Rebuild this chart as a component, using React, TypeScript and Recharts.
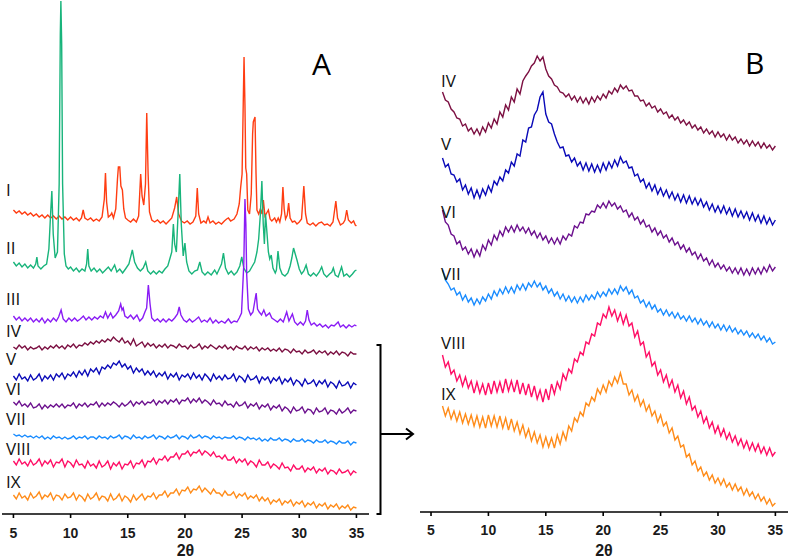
import React from "react";
import { LineChart, Line, XAxis, YAxis } from "recharts";

// 2θ sampling grids (degrees) used by the amorphous scans, and axis ticks
const gridA = Array.from({ length: 121 }, (_, i) => 5 + i * 0.25);
const gridB = Array.from({ length: 117 }, (_, i) => 6 + i * 0.25);
const ticks2Theta = [5, 10, 15, 20, 25, 30, 35];

// ---- Panel A : crystalline scans, [2θ, intensity] (stacked, a.u.) ----
const A_I = [
  [5, 304], [5.25, 301], [5.5, 303], [5.75, 300], [6, 302], [6.25, 299], [6.5, 301], [6.75, 298],
  [7, 300], [7.25, 297], [7.5, 299], [7.75, 296], [8, 299], [8.25, 296], [8.5, 298], [8.75, 295],
  [9, 298], [9.25, 295], [9.5, 297], [9.75, 294], [10, 297], [10.25, 294], [10.5, 296], [10.75, 293],
  [10.95, 296], [11.1, 304], [11.25, 296], [11.5, 294], [11.75, 296], [12, 293], [12.25, 295], [12.5, 293],
  [12.75, 297], [12.95, 315], [13.05, 341], [13.15, 312], [13.3, 297], [13.5, 299], [13.6, 301], [13.75, 296],
  [13.95, 305], [14.1, 335], [14.18, 347], [14.3, 347], [14.4, 328], [14.53, 324], [14.65, 305], [14.8, 296],
  [15, 294], [15.25, 292], [15.5, 295], [15.75, 292], [15.95, 298], [16.13, 340], [16.25, 318], [16.4, 309],
  [16.55, 330], [16.66, 401], [16.78, 340], [16.9, 302], [17.1, 294], [17.35, 292], [17.6, 294], [17.85, 291],
  [18.1, 293], [18.35, 290], [18.6, 293], [18.85, 296], [19.1, 306], [19.28, 317], [19.45, 300], [19.7, 293],
  [19.95, 291], [20.2, 293], [20.45, 290], [20.7, 292], [20.95, 298], [21.08, 326], [21.2, 300], [21.4, 291],
  [21.65, 293], [21.85, 291], [22.02, 297], [22.2, 291], [22.45, 293], [22.7, 290], [22.95, 292], [23.2, 290],
  [23.45, 293], [23.65, 295], [23.8, 296], [24, 293], [24.3, 295], [24.55, 300], [24.75, 310], [24.87, 326],
  [25, 340], [25.1, 410], [25.17, 457], [25.25, 409], [25.32, 346], [25.4, 340], [25.5, 304], [25.65, 300],
  [25.8, 320], [25.92, 380], [25.98, 392], [26.13, 397], [26.22, 340], [26.3, 304], [26.45, 300], [26.6, 305],
  [26.75, 300], [26.86, 314], [27, 298], [27.15, 301], [27.3, 304], [27.45, 295], [27.6, 293], [27.85, 296],
  [28, 292], [28.16, 296], [28.3, 292], [28.45, 300], [28.57, 327], [28.68, 305], [28.8, 295], [28.95, 299],
  [29.07, 311], [29.2, 296], [29.4, 292], [29.6, 293], [29.8, 290], [30, 292], [30.2, 295], [30.4, 328],
  [30.55, 300], [30.7, 291], [30.95, 289], [31.2, 291], [31.45, 288], [31.7, 291], [31.95, 292], [32.2, 289],
  [32.45, 290], [32.7, 288], [32.95, 292], [33.2, 313], [33.35, 296], [33.6, 289], [33.85, 291], [34, 294],
  [34.15, 304], [34.3, 294], [34.55, 291], [34.75, 293], [34.9, 289], [35, 288],
];

const A_II = [
  [5, 252], [5.25, 248], [5.5, 251], [5.75, 247], [6, 250], [6.25, 246], [6.5, 249], [6.75, 246],
  [6.95, 250], [7.05, 257], [7.15, 248], [7.4, 245], [7.65, 248], [7.9, 250], [8.1, 265], [8.25, 300],
  [8.36, 323], [8.48, 280], [8.65, 256], [8.85, 262], [9, 330], [9.1, 480], [9.15, 513], [9.22, 470],
  [9.3, 330], [9.45, 260], [9.6, 248], [9.8, 245], [10, 247], [10.25, 243], [10.5, 246], [10.75, 242],
  [11, 245], [11.25, 243], [11.4, 250], [11.5, 265], [11.6, 248], [11.8, 243], [12.05, 246], [12.3, 242],
  [12.55, 245], [12.8, 241], [13.05, 244], [13.3, 247], [13.55, 243], [13.85, 249], [14.05, 242], [14.3, 245],
  [14.55, 241], [14.8, 245], [15.1, 250], [15.4, 264], [15.6, 252], [15.85, 246], [16.1, 243], [16.35, 246],
  [16.57, 252], [16.75, 243], [17, 240], [17.25, 243], [17.5, 240], [17.75, 243], [18, 241], [18.25, 245],
  [18.5, 248], [18.7, 256], [18.85, 262], [18.99, 290], [19.1, 270], [19.25, 262], [19.4, 300], [19.55, 340],
  [19.68, 290], [19.85, 258], [20, 271], [20.15, 252], [20.35, 243], [20.6, 240], [20.85, 243], [21.1, 244],
  [21.3, 252], [21.5, 242], [21.75, 239], [22, 242], [22.3, 239], [22.6, 244], [22.8, 240], [23, 245],
  [23.2, 250], [23.37, 261], [23.55, 246], [23.8, 240], [24.05, 243], [24.3, 239], [24.55, 242], [24.8, 248],
  [24.97, 257], [25.15, 246], [25.4, 241], [25.65, 243], [25.9, 248], [26.1, 252], [26.3, 262], [26.45, 275],
  [26.6, 300], [26.73, 333], [26.85, 290], [26.95, 270], [27.05, 300], [27.15, 285], [27.3, 262], [27.42, 255],
  [27.55, 259], [27.7, 246], [27.9, 241], [28, 244], [28.14, 263], [28.3, 246], [28.5, 240], [28.75, 238],
  [29, 241], [29.2, 248], [29.35, 256], [29.5, 266], [29.65, 260], [29.8, 254], [30, 245], [30.2, 240],
  [30.4, 243], [30.6, 249], [30.8, 240], [31, 238], [31.25, 241], [31.5, 238], [31.75, 242], [31.96, 247],
  [32.15, 240], [32.4, 237], [32.65, 240], [32.85, 242], [32.98, 246], [33.15, 239], [33.4, 237], [33.7, 247],
  [33.9, 238], [34.15, 240], [34.4, 237], [34.65, 240], [34.85, 243], [35, 244],
];

const A_III = [
  [5, 198], [5.25, 194], [5.5, 197], [5.75, 193], [6, 196], [6.25, 193], [6.5, 196], [6.75, 192],
  [7, 195], [7.25, 192], [7.5, 196], [7.75, 191], [8, 195], [8.25, 192], [8.5, 196], [8.75, 193],
  [8.95, 197], [9.17, 204], [9.35, 195], [9.6, 192], [9.85, 196], [10.1, 193], [10.35, 196], [10.6, 193],
  [10.85, 195], [11.12, 198], [11.35, 194], [11.6, 197], [11.85, 194], [12.1, 197], [12.35, 195], [12.6, 198],
  [12.85, 196], [13.05, 202], [13.25, 196], [13.5, 201], [13.7, 196], [13.95, 199], [14.2, 203], [14.38, 210],
  [14.5, 204], [14.6, 206], [14.75, 198], [15, 196], [15.25, 199], [15.5, 195], [15.8, 199], [16.05, 193],
  [16.3, 196], [16.5, 202], [16.65, 206], [16.8, 229], [16.95, 210], [17.1, 196], [17.35, 193], [17.6, 195],
  [17.85, 192], [18.1, 195], [18.35, 192], [18.6, 195], [18.85, 193], [19.1, 196], [19.35, 200], [19.5, 207],
  [19.65, 199], [19.9, 194], [20.15, 192], [20.4, 195], [20.65, 192], [20.9, 194], [21.2, 197], [21.45, 192],
  [21.7, 194], [21.95, 192], [22.2, 196], [22.45, 191], [22.7, 194], [22.95, 191], [23.2, 193], [23.5, 191],
  [23.8, 195], [24.05, 191], [24.3, 193], [24.55, 192], [24.75, 196], [24.95, 201], [25.15, 250], [25.25, 315],
  [25.33, 290], [25.4, 240], [25.55, 205], [25.75, 199], [25.95, 202], [26.1, 212], [26.23, 221], [26.35, 205],
  [26.5, 202], [26.7, 199], [26.9, 204], [27.1, 198], [27.4, 201], [27.6, 196], [27.85, 194], [28.1, 192],
  [28.35, 195], [28.6, 192], [28.9, 202], [29.1, 193], [29.4, 200], [29.6, 192], [29.85, 189], [30.1, 192],
  [30.35, 189], [30.55, 193], [30.7, 204], [30.85, 194], [31.05, 189], [31.3, 191], [31.55, 188], [31.8, 190],
  [32.05, 187], [32.3, 189], [32.55, 186], [32.8, 189], [33.05, 188], [33.4, 192], [33.6, 187], [33.85, 189],
  [34.1, 186], [34.35, 189], [34.6, 187], [34.85, 189], [35, 188],
];

// ---- Panel A : amorphous scans on gridA (5°–35°, 0.25° step) ----
const A_IV = [
  167, 165, 169, 166, 168, 164, 167, 165, 166, 168, 164, 167, 165, 168, 166, 169,
  166, 168, 165, 169, 167, 170, 166, 169, 168, 171, 169, 172, 170, 173, 171, 174,
  172, 175, 173, 177, 174, 172, 176, 171, 173, 169, 175, 168, 170, 172, 167, 171,
  168, 170, 166, 169, 167, 170, 166, 169, 168, 166, 170, 167, 168, 165, 169, 166,
  167, 170, 165, 168, 166, 169, 167, 165, 168, 166, 169, 165, 167, 164, 168, 166,
  165, 168, 164, 167, 165, 167, 163, 166, 164, 166, 163, 165, 163, 166, 162, 165,
  164, 161, 165, 162, 163, 160, 164, 161, 162, 164, 160, 163, 161, 163, 159, 162,
  160, 163, 159, 162, 161, 158, 162, 160, 160,
];
const A_V = [
  138, 134, 140, 135, 137, 133, 139, 134, 136, 140, 133, 138, 135, 139, 134, 140,
  137, 141, 135, 140, 138, 142, 137, 143, 139, 144, 138, 145, 142, 146, 140, 147,
  145, 149, 146, 151, 149, 153, 147, 150, 145, 148, 141, 146, 142, 145, 139, 143,
  139, 143, 137, 141, 138, 142, 135, 140, 137, 141, 134, 139, 137, 140, 135, 141,
  136, 139, 134, 140, 137, 133, 140, 135, 138, 134, 139, 135, 136, 140, 133, 138,
  136, 132, 139, 134, 135, 138, 131, 137, 134, 137, 131, 136, 133, 137, 130, 135,
  132, 136, 129, 134, 132, 128, 135, 130, 131, 134, 128, 133, 130, 134, 127, 132,
  130, 126, 133, 128, 129, 132, 126, 131, 129,
];
const A_VI = [
  112, 109, 113, 108, 110, 107, 111, 106, 107, 110, 105, 109, 106, 109, 107, 110,
  107, 110, 106, 109, 108, 111, 106, 110, 108, 111, 107, 110, 109, 112, 107, 111,
  108, 111, 109, 112, 110, 107, 111, 108, 110, 113, 108, 112, 110, 113, 109, 112,
  111, 114, 109, 113, 111, 114, 110, 114, 112, 115, 110, 114, 113, 116, 111, 115,
  112, 116, 111, 114, 112, 109, 114, 110, 111, 108, 113, 109, 110, 107, 112, 108,
  109, 112, 106, 110, 108, 111, 105, 109, 107, 110, 104, 108, 106, 109, 103, 107,
  105, 101, 107, 103, 104, 107, 101, 105, 104, 100, 106, 102, 103, 106, 100, 104,
  103, 100, 105, 101, 103, 106, 101, 104, 103,
];
const A_VII = [
  80, 78, 79, 77, 79, 77, 78, 76, 78, 76, 78, 75, 77, 75, 78, 76,
  77, 75, 77, 75, 76, 78, 75, 77, 76, 78, 75, 77, 77, 75, 78, 76,
  77, 75, 78, 76, 77, 79, 75, 78, 77, 75, 79, 76, 77, 75, 78, 76,
  77, 79, 75, 78, 77, 75, 78, 76, 77, 79, 75, 78, 77, 75, 79, 76,
  77, 79, 76, 78, 77, 75, 78, 76, 77, 75, 77, 76, 76, 78, 75, 77,
  76, 74, 77, 75, 76, 74, 76, 73, 75, 73, 76, 74, 74, 76, 73, 75,
  74, 72, 75, 73, 73, 75, 72, 74, 73, 71, 74, 72, 72, 74, 71, 73,
  72, 70, 73, 71, 71, 73, 69, 72, 71,
];
const A_VIII = [
  53, 49, 55, 50, 52, 48, 54, 49, 51, 55, 48, 53, 50, 54, 47, 52,
  51, 55, 47, 53, 51, 47, 54, 49, 50, 46, 53, 48, 50, 46, 53, 47,
  49, 53, 45, 51, 48, 52, 45, 50, 49, 53, 46, 51, 50, 54, 47, 53,
  52, 56, 50, 55, 54, 58, 53, 57, 57, 61, 55, 60, 60, 63, 58, 62,
  61, 64, 59, 63, 61, 58, 62, 57, 58, 55, 59, 54, 54, 57, 51, 55,
  52, 55, 49, 53, 51, 47, 54, 49, 49, 52, 46, 50, 48, 45, 51, 46,
  47, 43, 49, 45, 45, 48, 42, 46, 44, 47, 41, 45, 43, 46, 40, 44,
  43, 40, 45, 41, 42, 44, 39, 43, 41,
];
const A_IX = [
  19, 15, 21, 16, 18, 14, 21, 16, 18, 22, 15, 19, 17, 21, 14, 19,
  18, 14, 20, 16, 17, 21, 14, 19, 17, 13, 20, 15, 17, 21, 14, 18,
  17, 13, 20, 14, 16, 20, 13, 18, 16, 12, 19, 14, 17, 20, 14, 18,
  17, 21, 15, 19, 19, 23, 17, 21, 21, 25, 19, 24, 23, 27, 21, 25,
  24, 28, 22, 26, 23, 20, 25, 21, 21, 18, 23, 19, 19, 22, 16, 20,
  18, 21, 15, 18, 16, 19, 13, 17, 13, 16, 10, 14, 12, 15, 9, 13,
  11, 14, 8, 12, 10, 13, 7, 11, 9, 12, 6, 10, 8, 11, 5, 9,
  7, 10, 5, 8, 6, 9, 4, 7, 6,
];

// ---- Panel B : enlarged amorphous scans on gridB (6°–35°, 0.25° step) ----
const B_IV = [
  420, 412, 410, 403, 400, 394, 393, 386, 388, 381, 384, 378, 383, 377, 385, 380,
  389, 384, 393, 388, 400, 395, 407, 402, 415, 410, 423, 418, 431, 436, 440, 446,
  449, 456, 451, 455, 443, 436, 433, 427, 425, 420, 419, 415, 418, 412, 416, 410,
  415, 409, 414, 408, 415, 410, 416, 412, 418, 414, 421, 418, 424, 420, 427, 423,
  426, 421, 422, 416, 416, 411, 412, 406, 409, 404, 406, 400, 403, 398, 400, 394,
  397, 392, 395, 389, 392, 387, 390, 384, 387, 382, 385, 379, 383, 378, 381, 375,
  380, 375, 378, 372, 377, 372, 375, 369, 373, 368, 372, 366, 371, 366, 370, 364,
  369, 364, 367, 362, 366,
];
const B_V = [
  354, 345, 348, 338, 337, 330, 333, 322, 327, 318, 324, 314, 322, 314, 323, 317,
  326, 320, 331, 327, 335, 331, 342, 339, 350, 346, 358, 356, 372, 370, 384, 385,
  397, 402, 415, 420, 398, 390, 388, 378, 370, 364, 365, 356, 357, 350, 354, 346,
  350, 342, 349, 341, 348, 340, 347, 340, 349, 342, 350, 344, 352, 346, 355, 349,
  351, 344, 345, 336, 338, 330, 333, 324, 329, 321, 327, 318, 324, 316, 322, 314,
  320, 312, 318, 310, 317, 309, 316, 308, 314, 307, 313, 305, 310, 302, 308, 300,
  306, 299, 306, 298, 304, 296, 303, 295, 301, 294, 300, 292, 299, 291, 297, 289,
  296, 288, 294, 287, 292,
];
const B_VI = [
  302, 290, 287, 278, 276, 268, 271, 262, 265, 258, 263, 255, 262, 256, 267, 262,
  272, 267, 277, 272, 281, 276, 285, 280, 286, 280, 287, 281, 285, 279, 284, 277,
  281, 274, 279, 272, 276, 269, 274, 268, 274, 268, 276, 272, 278, 276, 286, 284,
  290, 289, 298, 297, 301, 300, 307, 304, 309, 304, 311, 306, 309, 303, 306, 300,
  302, 295, 299, 292, 295, 288, 292, 285, 287, 280, 284, 277, 281, 274, 277, 270,
  274, 267, 270, 263, 267, 260, 264, 257, 260, 253, 258, 251, 254, 247, 252, 245,
  249, 243, 247, 241, 245, 239, 244, 238, 244, 237, 243, 237, 244, 238, 244, 238,
  245, 240, 247, 241, 245,
];
const B_VII = [
  242, 232, 228, 222, 224, 217, 220, 212, 217, 210, 214, 207, 213, 208, 215, 211,
  218, 213, 221, 216, 223, 218, 225, 219, 225, 219, 227, 222, 228, 222, 229, 225,
  231, 225, 229, 222, 226, 219, 223, 216, 220, 213, 218, 211, 216, 210, 215, 209,
  215, 210, 217, 212, 217, 213, 220, 215, 220, 216, 223, 218, 223, 218, 226, 221,
  225, 218, 222, 214, 216, 209, 212, 205, 210, 203, 207, 200, 203, 197, 202, 196,
  200, 194, 199, 193, 196, 191, 196, 190, 194, 188, 193, 187, 191, 185, 190, 184,
  188, 182, 187, 181, 186, 180, 184, 178, 182, 177, 181, 175, 179, 174, 178, 172,
  176, 170, 174, 168, 170,
];
const B_VIII = [
  157, 145, 150, 138, 142, 131, 137, 126, 135, 124, 131, 119, 130, 119, 128, 117,
  129, 118, 131, 120, 130, 119, 133, 121, 131, 120, 132, 118, 129, 117, 128, 115,
  126, 113, 122, 110, 123, 112, 128, 118, 130, 123, 138, 132, 143, 139, 153, 150,
  160, 157, 170, 168, 178, 176, 189, 187, 198, 194, 205, 196, 202, 191, 199, 188,
  197, 186, 189, 175, 181, 167, 170, 155, 160, 146, 150, 137, 142, 130, 137, 125,
  132, 120, 127, 114, 121, 108, 115, 102, 106, 95, 101, 89, 95, 84, 90, 79,
  86, 76, 83, 73, 79, 70, 76, 67, 73, 64, 71, 62, 69, 61, 68, 59,
  65, 57, 64, 56, 60,
];
const B_IX = [
  106, 96, 104, 93, 101, 91, 100, 89, 98, 88, 97, 86, 96, 85, 95, 84,
  97, 86, 96, 85, 96, 84, 94, 82, 93, 81, 90, 78, 87, 75, 83, 71,
  80, 69, 77, 65, 75, 65, 74, 64, 77, 68, 80, 72, 86, 81, 94, 90,
  100, 96, 109, 106, 115, 111, 123, 118, 127, 120, 131, 126, 135, 129, 139, 128,
  128, 117, 122, 111, 117, 106, 112, 101, 107, 96, 101, 90, 97, 86, 90, 79,
  84, 72, 76, 65, 67, 55, 58, 47, 51, 41, 45, 36, 40, 32, 37, 29,
  34, 27, 33, 25, 29, 22, 28, 21, 25, 17, 23, 16, 20, 13, 18, 11,
  15, 8, 13, 6, 9,
];

const pairs = (arr: number[][]) => arr.map(([t, h]) => ({ t, h }));
const onGrid = (grid: number[], vals: number[]) => grid.map((t, i) => ({ t, h: vals[i] }));

const COLORS: Record<string, string> = {
  I: "#ff3d12",
  II: "#18b47b",
  III: "#8a1cf5",
  IV: "#7c1042",
  V: "#0a0ab8",
  VI: "#6c108e",
  VII: "#1a8cff",
  VIII: "#ff0f66",
  IX: "#ff8c1a",
};

const panelA = [
  { id: "I", data: pairs(A_I) },
  { id: "II", data: pairs(A_II) },
  { id: "III", data: pairs(A_III) },
  { id: "IV", data: onGrid(gridA, A_IV) },
  { id: "V", data: onGrid(gridA, A_V) },
  { id: "VI", data: onGrid(gridA, A_VI) },
  { id: "VII", data: onGrid(gridA, A_VII) },
  { id: "VIII", data: onGrid(gridA, A_VIII) },
  { id: "IX", data: onGrid(gridA, A_IX) },
];

const panelB = [
  { id: "IV", data: onGrid(gridB, B_IV) },
  { id: "V", data: onGrid(gridB, B_V) },
  { id: "VI", data: onGrid(gridB, B_VI) },
  { id: "VII", data: onGrid(gridB, B_VII) },
  { id: "VIII", data: onGrid(gridB, B_VIII) },
  { id: "IX", data: onGrid(gridB, B_IX) },
];

// sample labels next to each trace
const labelsA = [
  { id: "I", x: 6, y: 196 },
  { id: "II", x: 6, y: 254 },
  { id: "III", x: 6, y: 305 },
  { id: "IV", x: 6, y: 337 },
  { id: "V", x: 6, y: 365 },
  { id: "VI", x: 6, y: 395 },
  { id: "VII", x: 6, y: 425 },
  { id: "VIII", x: 6, y: 455 },
  { id: "IX", x: 6, y: 488 },
];
const labelsB = [
  { id: "IV", x: 441, y: 87 },
  { id: "V", x: 441, y: 150 },
  { id: "VI", x: 441, y: 218 },
  { id: "VII", x: 441, y: 280 },
  { id: "VIII", x: 441, y: 349 },
  { id: "IX", x: 441, y: 400 },
];

const axisFont = "'Liberation Sans', Arial, sans-serif";

const Tick = (props: any) => {
  const { x, y, payload } = props;
  return (
    <text
      x={x}
      y={y + 10}
      textAnchor="middle"
      fontFamily={axisFont}
      fontSize={14}
      fontWeight={700}
      fill="#1a1a1a"
    >
      {payload.value}
    </text>
  );
};

function Panel({
  series,
  width,
  left,
  marginLeft,
  marginRight,
  yMax,
  tickMargin,
  domainLeft,
}: {
  series: { id: string; data: { t: number; h: number }[] }[];
  width: number;
  left: number;
  marginLeft: number;
  marginRight: number;
  yMax: number;
  tickMargin: number;
  domainLeft: number;
}) {
  return (
    <div style={{ position: "absolute", left, top: 0 }}>
      <LineChart
        width={width}
        height={560}
        margin={{ top: 0, right: marginRight, bottom: 0, left: marginLeft }}
      >
        <XAxis
          dataKey="t"
          type="number"
          domain={[domainLeft, 36.1]}
          ticks={ticks2Theta}
          interval={0}
          allowDataOverflow
          height={560 - yMax}
          tickSize={4}
          tickMargin={tickMargin}
          axisLine={{ stroke: "#000", strokeWidth: 1.6 }}
          tickLine={{ stroke: "#000", strokeWidth: 1.6 }}
          tick={<Tick />}
        />
        <YAxis hide type="number" domain={[0, yMax]} allowDataOverflow />
        {series.map((s) => (
          <Line
            key={s.id}
            data={s.data}
            dataKey="h"
            type="linear"
            stroke={COLORS[s.id]}
            strokeWidth={1.4}
            dot={false}
            activeDot={false}
            isAnimationActive={false}
          />
        ))}
      </LineChart>
    </div>
  );
}

export default function App() {
  const labelFont = "'Open Sans', 'DejaVu Sans', sans-serif";
  return (
    <div
      style={{
        position: "fixed",
        left: 0,
        top: 0,
        width: 789,
        height: 560,
        background: "#fff",
        overflow: "hidden",
      }}
    >
      <Panel series={panelA} width={380} left={0} marginLeft={2} marginRight={11} yMax={514} tickMargin={10} domainLeft={4} />
      <Panel series={panelB} width={389} left={400} marginLeft={20} marginRight={1} yMax={512} tickMargin={9} domainLeft={4.04} />
      <svg
        width={789}
        height={560}
        style={{ position: "absolute", left: 0, top: 0, pointerEvents: "none" }}
      >
        <g fontFamily={labelFont} fontSize={17} fill="#111">
          {labelsA.map((l) => (
            <text key={"a" + l.id} x={l.x} y={l.y}>
              {l.id}
            </text>
          ))}
          {labelsB.map((l) => (
            <text key={"b" + l.id} x={l.x} y={l.y}>
              {l.id}
            </text>
          ))}
        </g>
        <text x={312} y={75} fontFamily={labelFont} fontSize={30} fill="#000">
          A
        </text>
        <text x={745} y={74} fontFamily={labelFont} fontSize={30} fill="#000">
          B
        </text>
        {/* axis titles */}
        <g fontFamily={axisFont} fontSize={16} fontWeight={700} fill="#1a1a1a" textAnchor="middle">
          <text x={185.5} y={555.5}>2θ</text>
          <text x={604} y={555.5}>2θ</text>
        </g>
        {/* bracket grouping IV–IX and arrow to panel B */}
        <path d="M376.5,345 H380.5 V514 H376.5" fill="none" stroke="#000" strokeWidth={2} />
        <path d="M380.5,434 H412" fill="none" stroke="#000" strokeWidth={2} />
        <path d="M406,428.5 L413,434 L406,439.5" fill="none" stroke="#000" strokeWidth={2} />
      </svg>
    </div>
  );
}
